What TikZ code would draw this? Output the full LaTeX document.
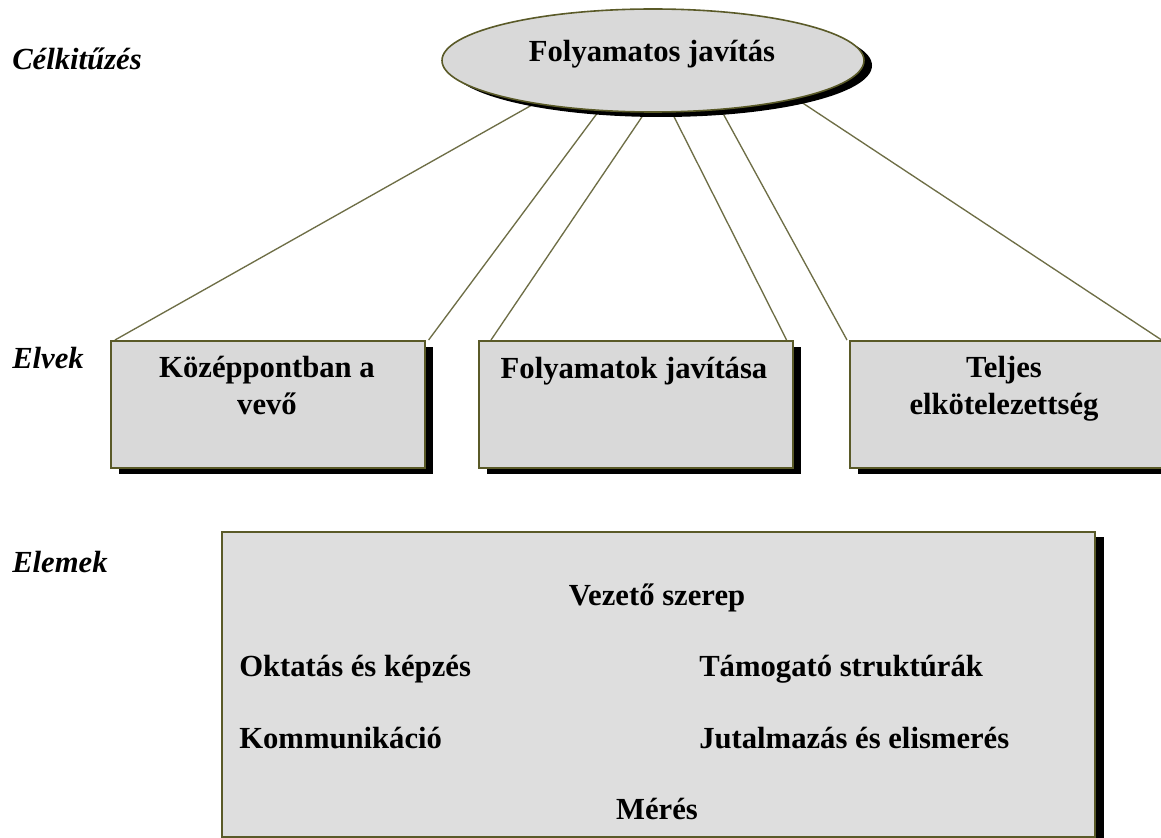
\documentclass[tikz,border=0pt]{standalone}
\usepackage{fontspec}
\setmainfont{Liberation Serif}
\usetikzlibrary{shadows,shapes.geometric,backgrounds}
\definecolor{boxfill}{HTML}{D9D9D9}
\definecolor{bigfill}{HTML}{DEDEDE}
\definecolor{edgecol}{RGB}{90,90,40}
\definecolor{wirecol}{RGB}{110,110,70}
\begin{document}
\begin{tikzpicture}[x=0.75pt,y=-0.75pt,
  txt/.style={font=\bfseries\fontsize{23}{27.75}\selectfont, inner sep=0pt, align=center},
  lbl/.style={font=\bfseries\itshape\fontsize{23}{27.75}\selectfont, inner sep=0pt, anchor=base west},
  blackshadow/.style={general shadow={fill=black, shadow xshift=6pt, shadow yshift=-4.5pt}},
  pbox/.style={draw=edgecol, line width=1.2pt, fill=boxfill, minimum width=235.5pt, minimum height=95.25pt, inner sep=0pt, anchor=north west, blackshadow},
  wire/.style={draw=wirecol, line width=1pt}
]
\useasboundingbox (0,0) rectangle (1161,838);
\begin{pgfonlayer}{background}
\fill[white] (0,0) rectangle (1161,838);
\end{pgfonlayer}
\clip (0,0) rectangle (1161,838);

% principle boxes
\node[pbox] (b1) at (110,340) {};
\node[pbox] (b2) at (478,340) {};
\node[pbox] (b3) at (849,340) {};

% elements box
\node[draw=edgecol, line width=1.2pt, fill=bigfill, minimum width=654.75pt, minimum height=228.75pt, inner sep=0pt, anchor=north west, general shadow={fill=black, shadow xshift=6.75pt, shadow yshift=-3.75pt}] (bb) at (221,531) {};

% goal ellipse
\node[ellipse, draw=edgecol, line width=1.2pt, fill=boxfill, minimum width=316.5pt, minimum height=77.25pt, inner sep=0pt, general shadow={fill=black, shadow xshift=6pt, shadow yshift=-3.75pt}] (goal) at (653,60.5) {};

% connectors
\begin{pgfonlayer}{background}
\draw[wire] (goal.200) -- ([xshift=3.75pt]b1.north west);
\draw[wire] (goal.223) -- ([xshift=2.25pt]b1.north east);
\draw[wire] (goal.261) -- ([xshift=9.75pt]b2.north west);
\draw[wire] (goal.290) -- ([xshift=-5.25pt]b2.north east);
\draw[wire] (goal.324.5) -- ([xshift=-1.5pt]b3.north west);
\draw[wire] (goal.-15.7) -- ([xshift=-2.25pt]b3.north east);
\end{pgfonlayer}

% texts
\node[txt, anchor=base] (gt) at (652,62) {Folyamatos javítás};
\node[txt, anchor=base] (t1) at (267,414) {Középpontban a\\vevő};
\node[txt, anchor=base] (t2) at (634,378) {Folyamatok javítása};
\node[txt, anchor=base] (t3) at (1004,414) {Teljes\\elkötelezettség};

\node[txt, anchor=base] (e1) at (657,605) {Vezető szerep};
\node[txt, anchor=base west] (e2) at (239,676) {Oktatás és képzés};
\node[txt, anchor=base west] (e3) at (699,676) {Támogató struktúrák};
\node[txt, anchor=base west] (e4) at (239,748) {Kommunikáció};
\node[txt, anchor=base west] (e5) at (699,748) {Jutalmazás és elismerés};
\node[txt, anchor=base] (e6) at (657,819) {Mérés};

% side labels
\node[lbl] (l1) at (12,70) {Célkitűzés};
\node[lbl] (l2) at (12,368) {Elvek};
\node[lbl] (l3) at (12,572) {Elemek};
\end{tikzpicture}
\end{document}
